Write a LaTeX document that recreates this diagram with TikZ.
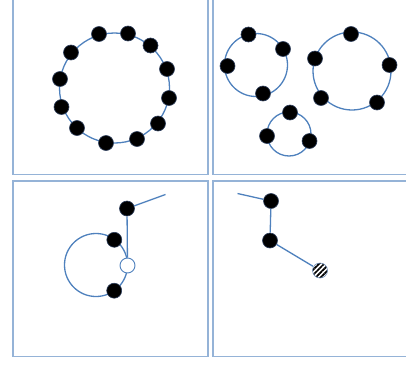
\documentclass[tikz,border=0pt]{standalone}
\usepackage{tikz}
\usetikzlibrary{patterns.meta}
\definecolor{chainblue}{RGB}{79,129,189}
\definecolor{panelblue}{RGB}{149,179,215}

\begin{document}
\begin{tikzpicture}[x=1pt,y=1pt,yscale=-1,xscale=1,
  bead/.style={circle,inner sep=0pt,minimum size=15pt,fill=black,draw={rgb, 255:red, 45; green, 62; blue, 92},line width=0.6pt},
  openbead/.style={bead,fill=white,draw={rgb, 255:red, 79; green, 129; blue, 189},line width=0.9pt},
  stripebead/.style={bead,draw={rgb, 255:red, 110; green, 140; blue, 180},preaction={fill=white},pattern={Lines[angle=45,distance=3.6pt,line width=1.7pt]}},
  chain/.style={draw=chainblue,line width=1.3pt},
  panel/.style={draw=panelblue,line width=1.8pt}]
\useasboundingbox (0,0) rectangle (406,364);
\clip (0,0) rectangle (406,364);

%Shape: Rectangle (panels)
\draw [panel] (13,-5) rectangle (208,174.5);
\draw [panel] (213,-5) rectangle (412,174.5);
\draw [panel] (13,181) rectangle (208,356.5);
\draw [panel] (213,181) rectangle (412,356.5);

%Shape: Circle (big ring)
\draw [chain] (114.5,88) circle (55);
%Shape: Circle (three small rings)
\draw [chain] (256,65) circle (31.5);
\draw [chain] (352,71) circle (39);
\draw [chain] (289,134) circle (22);
%Shape: Circle (loop of the tail)
\draw [chain] (96,265) circle (31.5);

% Beads of the big ring
\draw (99,34) node [bead] (ring1) {};
\draw (128,33.5) node [bead] (ring2) {};
\draw (150.5,45.5) node [bead] (ring3) {};
\draw (167,69) node [bead] (ring4) {};
\draw (169,98) node [bead] (ring5) {};
\draw (158,123.5) node [bead] (ring6) {};
\draw (137,139) node [bead] (ring7) {};
\draw (106,143) node [bead] (ring8) {};
\draw (77,128) node [bead] (ring9) {};
\draw (61.5,107) node [bead] (ring10) {};
\draw (60,79) node [bead] (ring11) {};
\draw (71,52.5) node [bead] (ring12) {};

% Beads of the small rings
\draw (248.5,34.5) node [bead] (left1) {};
\draw (283,49) node [bead] (left2) {};
\draw (227.5,66) node [bead] (left3) {};
\draw (263,93.5) node [bead] (left4) {};
\draw (351,34) node [bead] (right1) {};
\draw (389.5,65) node [bead] (right2) {};
\draw (377,102.5) node [bead] (right3) {};
\draw (321,98) node [bead] (right4) {};
\draw (315,58.5) node [bead] (right5) {};
\draw (290,112.5) node [bead] (low1) {};
\draw (267,136) node [bead] (low2) {};
\draw (309.5,141) node [bead] (low3) {};

% Tail with a loop
\coordinate (tailend) at (165.5,194.5);
\draw (127,208.5) node [bead] (tail1) {};
\draw (114.3,239.8) node [bead] (loop1) {};
\draw (127.5,265.5) node [openbead] (joint) {};
\draw (114.2,290.7) node [bead] (loop2) {};
\draw [chain] (tailend) -- (tail1);
\draw [chain] (tail1) -- (joint);

% Open chain
\coordinate (chainend) at (237.5,193.5);
\draw (271,201) node [bead] (link1) {};
\draw (270,240.5) node [bead] (link2) {};
\draw (320,270.5) node [stripebead] (link3) {};
\draw [chain] (chainend) -- (link1);
\draw [chain] (link1) -- (link2);
\draw [chain] (link2) -- (link3);

\end{tikzpicture}
\end{document}
